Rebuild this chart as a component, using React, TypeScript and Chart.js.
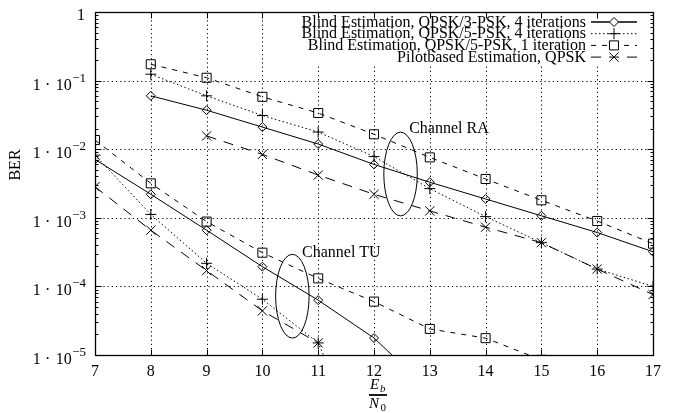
import React, { useEffect, useRef } from 'react';
import { Chart, registerables } from 'chart.js';

Chart.register(...registerables);

const FONT = '"Liberation Serif", "Times New Roman", serif';

// ---- data ----
const seriesNames = [
  'Blind Estimation, QPSK/3-PSK, 4 iterations',
  'Blind Estimation, QPSK/5-PSK, 4 iterations',
  'Blind Estimation, QPSK/5-PSK, 1 iteration',
  'Pilotbased Estimation, QPSK',
];

// QPSK/3-PSK, 4 iterations (diamond, solid)
const a4TU_x = [7, 8, 9, 10, 11, 12, 13];
const a4TU_y = [0.0071, 0.0022, 0.00066, 0.000194, 6.3e-5, 1.77e-5, 3e-6];
const a4RA_x = [8, 9, 10, 11, 12, 13, 14, 15, 16, 17];
const a4RA_y = [0.06, 0.037, 0.021, 0.0119, 0.006, 0.0033, 0.00188, 0.00107, 0.00061, 0.00032];

// QPSK/5-PSK, 4 iterations (plus, dotted)
const b4TU_x = [7, 8, 9, 10, 11, 12];
const b4TU_y = [0.0082, 0.00112, 0.000217, 6.5e-5, 1.5e-5, 2e-7];
const b4RA_x = [8, 9, 10, 11, 12, 13, 14, 15, 16, 17];
const b4RA_y = [0.124, 0.06, 0.031, 0.0178, 0.0078, 0.00266, 0.00104, 0.000434, 0.000179, 0.0001];

// QPSK/5-PSK, 1 iteration (square, dashed)
const b1TU_x = [7, 8, 9, 10, 11, 12, 13, 14, 15];
const b1TU_y = [0.0136, 0.00318, 0.00088, 0.00031, 0.000131, 6e-5, 2.4e-5, 1.76e-5, 8.5e-6];
const b1RA_x = [8, 9, 10, 11, 12, 13, 14, 15, 16, 17];
const b1RA_y = [0.173, 0.11, 0.058, 0.0337, 0.0165, 0.0076, 0.00368, 0.0018, 0.000898, 0.00042];

// Pilotbased, QPSK (x, long dash)
const pTU_x = [7, 8, 9, 10, 11];
const pTU_y = [0.00284, 0.00066, 0.00017, 4.4e-5, 1.5e-5];
const pRA_x = [9, 10, 11, 12, 13, 14, 15, 16, 17];
const pRA_y = [0.0156, 0.0084, 0.0042, 0.0022, 0.00126, 0.00073, 0.000434, 0.000179, 7.6e-5];

const xTicks = [7, 8, 9, 10, 11, 12, 13, 14, 15, 16, 17];
const yTicks = [1, 1e-1, 1e-2, 1e-3, 1e-4, 1e-5];
const yTickMant = ['1', '1', '1', '1', '1', '1'];
const yTickPow = ['', '10', '10', '10', '10', '10'];
const yTickSup = ['', '−1', '−2', '−3', '−4', '−5'];

// annotations (data coordinates)
const ellipseCx = [12.476, 10.537];
const ellipseCy = [0.00435, 7.2e-5];
const ellipseHalfW = [0.3, 0.3]; // x units
const ellipseHalfDec = [0.61, 0.61]; // decades
const noteText = ['Channel RA', 'Channel TU'];
const noteX = [12.63, 10.71];
const noteY = [0.0197, 3.07e-4];

// ---- styles ----
const styles = [
  { dash: [] as number[], point: 'rectRot', r: 4.5 },
  { dash: [1.5, 2.5], point: 'cross', r: 5.5 },
  { dash: [5, 6], point: 'rect', r: 6.4 },
  { dash: [10, 8], point: 'crossRot', r: 6.5 },
];

function pts(xs: number[], ys: number[]) {
  return xs.map((x, i) => ({ x, y: ys[i] }));
}

function mkDs(xs: number[], ys: number[], s: number) {
  const st = styles[s];
  return {
    data: pts(xs, ys),
    borderColor: '#000',
    borderWidth: 1,
    borderDash: st.dash,
    pointStyle: st.point,
    pointRadius: st.r,
    pointBorderColor: '#000',
    pointBackgroundColor: 'rgba(0,0,0,0)',
    pointBorderWidth: 1,
    fill: false,
    tension: 0,
  };
}

function drawMarker(ctx: CanvasRenderingContext2D, kind: string, x: number, y: number, r: number) {
  ctx.beginPath();
  if (kind === 'rectRot') {
    ctx.moveTo(x - r, y); ctx.lineTo(x, y - r); ctx.lineTo(x + r, y); ctx.lineTo(x, y + r); ctx.closePath();
  } else if (kind === 'cross') {
    ctx.moveTo(x - r, y); ctx.lineTo(x + r, y); ctx.moveTo(x, y - r); ctx.lineTo(x, y + r);
  } else if (kind === 'rect') {
    const h = r * Math.SQRT1_2;
    ctx.rect(x - h, y - h, 2 * h, 2 * h);
  } else {
    const h = r * Math.SQRT1_2;
    ctx.moveTo(x - h, y - h); ctx.lineTo(x + h, y + h); ctx.moveTo(x + h, y - h); ctx.lineTo(x - h, y + h);
  }
  ctx.stroke();
}

const overlay = {
  id: 'overlay',
  beforeDatasetsDraw(chart: any) {
    const { ctx, chartArea: a, scales } = chart;
    const xs = scales.x, ys = scales.y;
    ctx.save();
    ctx.strokeStyle = '#000';
    ctx.lineWidth = 1;
    ctx.setLineDash([1.2, 3]);
    xTicks.slice(1, -1).forEach((v) => {
      const px = Math.round(xs.getPixelForValue(v)) + 0.5;
      ctx.beginPath(); ctx.moveTo(px, a.top); ctx.lineTo(px, a.bottom); ctx.stroke();
    });
    yTicks.slice(1, -1).forEach((v) => {
      const py = Math.round(ys.getPixelForValue(v)) + 0.5;
      ctx.beginPath(); ctx.moveTo(a.left, py); ctx.lineTo(a.right, py); ctx.stroke();
    });
    ctx.setLineDash([]);
    // legend background
    ctx.fillStyle = '#fff';
    ctx.fillRect(a.right - 355, a.top + 1, 347, 53);
    ctx.restore();
  },
  afterDatasetsDraw(chart: any) {
    const { ctx, chartArea: a, scales } = chart;
    const xs = scales.x, ys = scales.y;
    ctx.save();
    ctx.strokeStyle = '#000';
    ctx.fillStyle = '#000';
    ctx.lineWidth = 1;
    ctx.setLineDash([]);
    // ticks
    const L = Math.round(a.left) + 0.5, R = Math.round(a.right) + 0.5;
    const T = Math.round(a.top) + 0.5, B = Math.round(a.bottom) + 0.5;
    xTicks.forEach((v) => {
      const px = Math.round(xs.getPixelForValue(v)) + 0.5;
      ctx.beginPath();
      ctx.moveTo(px, B); ctx.lineTo(px, B - 6);
      ctx.moveTo(px, T); ctx.lineTo(px, T + 6);
      ctx.stroke();
    });
    for (let e = -5; e < 0; e++) {
      for (let m = 1; m <= 9; m++) {
        const py = Math.round(ys.getPixelForValue(m * Math.pow(10, e))) + 0.5;
        const len = m === 1 ? 6 : 3;
        ctx.beginPath();
        ctx.moveTo(L, py); ctx.lineTo(L + len, py);
        ctx.moveTo(R, py); ctx.lineTo(R - len, py);
        ctx.stroke();
      }
    }
    // border
    ctx.lineWidth = 1.3;
    ctx.strokeRect(L, T, R - L, B - T);
    ctx.lineWidth = 1;

    // x tick labels
    ctx.font = `16px ${FONT}`;
    ctx.textAlign = 'center';
    ctx.textBaseline = 'alphabetic';
    xTicks.forEach((v) => {
      ctx.fillText(String(v), xs.getPixelForValue(v), B + 20);
    });
    // y tick labels
    const rightX = a.left - 9;
    yTicks.forEach((v, i) => {
      const py = ys.getPixelForValue(v);
      ctx.textAlign = 'right';
      if (!yTickSup[i]) {
        ctx.font = `16px ${FONT}`;
        ctx.fillText(yTickMant[i], rightX - 1, py + 8);
        return;
      }
      ctx.font = `13px ${FONT}`;
      const supW = ctx.measureText(yTickSup[i]).width;
      ctx.fillText(yTickSup[i], rightX, py + 1);
      ctx.font = `16px ${FONT}`;
      const powR = rightX - supW - 0.5;
      ctx.fillText(yTickPow[i], powR, py + 9);
      const powW = ctx.measureText(yTickPow[i]).width;
      const dotX = powR - powW - 8;
      ctx.textAlign = 'center';
      ctx.fillText('·', dotX, py + 9);
      ctx.textAlign = 'right';
      ctx.fillText(yTickMant[i], dotX - 7, py + 9);
    });

    // axis titles
    ctx.save();
    ctx.translate(16, 165);
    ctx.rotate(-Math.PI / 2);
    ctx.font = `16px ${FONT}`;
    ctx.textAlign = 'center';
    ctx.textBaseline = 'middle';
    ctx.fillText('BER', 0, 0);
    ctx.restore();

    const fx = (a.left + a.right) / 2 + 5;
    ctx.textAlign = 'left';
    ctx.textBaseline = 'alphabetic';
    ctx.font = `italic 15px ${FONT}`;
    ctx.fillText('E', fx - 9, 389);
    ctx.font = `italic 11px ${FONT}`;
    ctx.fillText('b', fx + 1, 392);
    ctx.lineWidth = 1.8;
    ctx.beginPath(); ctx.moveTo(fx - 10, 395); ctx.lineTo(fx + 8, 395); ctx.stroke();
    ctx.lineWidth = 1;
    ctx.font = `italic 15px ${FONT}`;
    ctx.fillText('N', fx - 10, 408);
    ctx.font = `11px ${FONT}`;
    ctx.fillText('0', fx + 1.5, 411);

    // legend
    const textR = a.right - 67;
    const s0 = a.right - 62, s1 = a.right - 16, sm = a.right - 39;
    seriesNames.forEach((name, i) => {
      const y = a.top + 9.5 + i * 11.7;
      ctx.font = `16px ${FONT}`;
      ctx.textAlign = 'right';
      ctx.textBaseline = 'middle';
      ctx.fillText(name, textR, y + 1);
      const st = styles[i];
      ctx.setLineDash(st.dash);
      ctx.beginPath(); ctx.moveTo(s0, y + 0.5); ctx.lineTo(s1, y + 0.5); ctx.stroke();
      ctx.setLineDash([]);
      if (st.point === 'rect' || st.point === 'rectRot') {
        const h = st.point === 'rect' ? st.r * Math.SQRT1_2 + 0.5 : st.r + 0.5;
        ctx.fillStyle = '#fff';
        ctx.fillRect(sm - h, y + 0.5 - h, 2 * h, 2 * h);
        ctx.fillStyle = '#000';
        if (st.point === 'rectRot') {
          ctx.beginPath(); ctx.moveTo(s0, y + 0.5); ctx.lineTo(s1, y + 0.5); ctx.stroke();
          ctx.fillStyle = '#fff';
          ctx.beginPath();
          ctx.moveTo(sm - st.r, y + 0.5); ctx.lineTo(sm, y + 0.5 - st.r); ctx.lineTo(sm + st.r, y + 0.5); ctx.lineTo(sm, y + 0.5 + st.r); ctx.closePath();
          ctx.fill();
          ctx.fillStyle = '#000';
        }
      }
      drawMarker(ctx, st.point, sm, y + 0.5, st.r);
    });

    // ellipses + notes
    ellipseCx.forEach((cx, i) => {
      const px = xs.getPixelForValue(cx);
      const py = ys.getPixelForValue(ellipseCy[i]);
      const rx = xs.getPixelForValue(cx + ellipseHalfW[i]) - px;
      const ry = ys.getPixelForValue(ellipseCy[i] / Math.pow(10, ellipseHalfDec[i])) - py;
      ctx.beginPath();
      ctx.ellipse(px, py, rx, ry, 0, 0, Math.PI * 2);
      ctx.stroke();
    });
    ctx.font = `16px ${FONT}`;
    ctx.textAlign = 'left';
    ctx.textBaseline = 'middle';
    noteText.forEach((t, i) => {
      ctx.fillText(t, xs.getPixelForValue(noteX[i]), ys.getPixelForValue(noteY[i]));
    });
    ctx.restore();
  },
};

export default function App() {
  const ref = useRef<HTMLCanvasElement | null>(null);
  useEffect(() => {
    if (!ref.current) return;
    const chart = new Chart(ref.current, {
      type: 'line',
      data: {
        datasets: [
          mkDs(a4TU_x, a4TU_y, 0), mkDs(a4RA_x, a4RA_y, 0),
          mkDs(b4TU_x, b4TU_y, 1), mkDs(b4RA_x, b4RA_y, 1),
          mkDs(b1TU_x, b1TU_y, 2), mkDs(b1RA_x, b1RA_y, 2),
          mkDs(pTU_x, pTU_y, 3), mkDs(pRA_x, pRA_y, 3),
        ] as any,
      },
      options: {
        animation: false,
        responsive: false,
        maintainAspectRatio: false,
        devicePixelRatio: 1,
        layout: { padding: { left: 95, right: 26, top: 12, bottom: 58 } },
        plugins: { legend: { display: false }, tooltip: { enabled: false } },
        scales: {
          x: { type: 'linear', min: 7, max: 17, display: false },
          y: { type: 'logarithmic', min: 1e-5, max: 1, display: false },
        },
      } as any,
      plugins: [overlay],
    });
    return () => chart.destroy();
  }, []);
  return (
    <div style={{ position: 'fixed', left: 0, top: 0, width: 679, height: 413, background: '#fff' }}>
      <canvas ref={ref} width={679} height={413} style={{ display: 'block', width: 679, height: 413 }} />
    </div>
  );
}
